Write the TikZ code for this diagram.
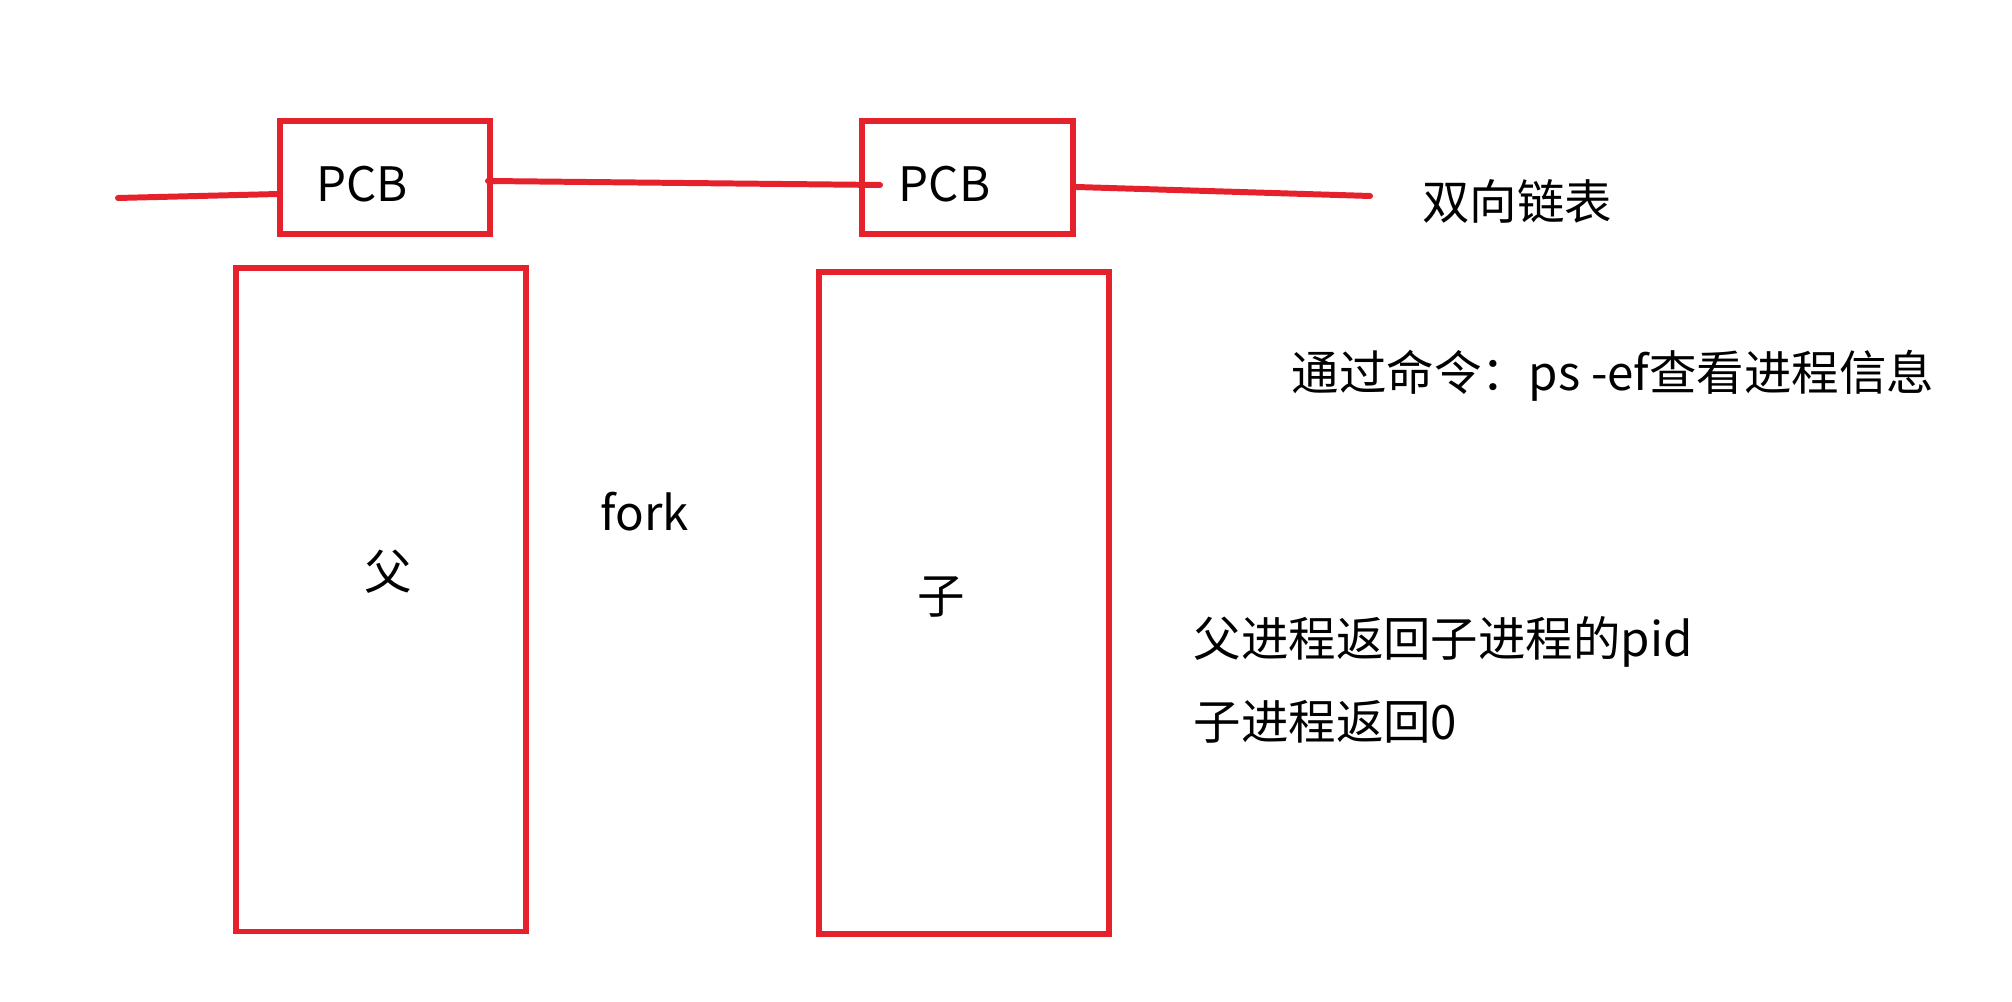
\documentclass[tikz,border=0pt]{standalone}
\usepackage{fontspec}
\newfontfamily\cjk{Noto Sans CJK SC}
\usepackage{xcolor}
\usepackage{tikz}
\usetikzlibrary{calc}

\definecolor{penred}{RGB}{229,34,44}

\begin{document}
\begin{tikzpicture}[
    font=\cjk\fontsize{13.5}{16}\selectfont,
    box/.style={draw=penred, line width=1.7pt, rectangle, inner sep=0pt},
    link/.style={draw=penred, line width=1.7pt, line cap=round},
    txt/.style={inner sep=0pt}
  ]
    \useasboundingbox[fill=white] (0, 0) rectangle (20.12, 10.02);

    % PCB boxes
    \node[box, minimum width=2.10cm, minimum height=1.13cm,
          label={[txt, shift={(-0.23,-0.07)}]center:PCB}] (pcb1) at (3.85, 8.245) {};
    \node[box, minimum width=2.11cm, minimum height=1.13cm,
          label={[txt, shift={(-0.23,-0.07)}]center:PCB}] (pcb2) at (9.675, 8.245) {};

    % Process boxes
    \node[box, minimum width=2.90cm, minimum height=6.63cm] (parent) at (3.81, 4.02) {};
    \node[box, minimum width=2.90cm, minimum height=6.62cm] (child) at (9.64, 3.99) {};

    % Linked list
    \coordinate (lend) at (1.18, 8.04);
    \coordinate (rend) at (13.70, 8.06);
    \draw[link] (lend) -- ($(pcb1.west)+(0.02,-0.165)$);
    \draw[link] ($(pcb1.east)+(-0.05,-0.035)$) -- ($(pcb2.west)+(0.21,-0.075)$);
    \draw[link] ($(pcb2.east)+(0,-0.095)$) -- (rend);

    % Labels
    \node[txt] (list) at (15.17, 8.01) {双向链表};
    \node[txt, anchor=west] (ps) at (12.91, 6.26) {通过命令：ps -ef查看进程信息};
    \node[txt] (fork) at (6.45, 4.90) {fork};
    \node[txt] (fu) at (3.88, 4.30) {父};
    \node[txt] (zi) at (9.41, 4.05) {子};
    \node[txt, anchor=west] (ret1) at (11.93, 3.60) {父进程返回子进程的pid};
    \node[txt, anchor=west] (ret2) at (11.93, 2.80) {子进程返回0};
\end{tikzpicture}
\end{document}
